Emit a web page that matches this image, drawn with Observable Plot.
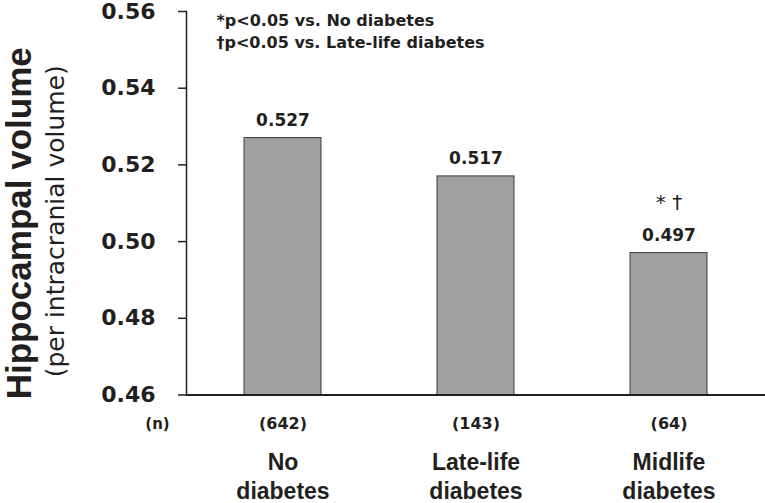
<!DOCTYPE html>
<html>
<head>
<meta charset="utf-8">
<script src="https://cdn.jsdelivr.net/npm/d3@7"></script>
<script src="https://cdn.jsdelivr.net/npm/@observablehq/plot@0.6"></script>
<style>
  html, body { margin: 0; padding: 0; background: #fff; }
  #chart { width: 765px; height: 503px; }
</style>
</head>
<body>
<div id="chart"></div>
<script>
// ---- data ----
const categories = ["No diabetes", "Late-life diabetes", "Midlife diabetes"];
const categoryLabels = ["No\ndiabetes", "Late-life\ndiabetes", "Midlife\ndiabetes"];
const volumes = [0.527, 0.517, 0.497];
const counts = [642, 143, 64];
const significance = ["", "", "* †"];
const yTicks = [0.46, 0.48, 0.50, 0.52, 0.54, 0.56];
const notes = ["*p<0.05 vs. No diabetes", "†p<0.05 vs. Late-life diabetes"];
const yTitle = "Hippocampal volume";
const ySubtitle = "(per intracranial volume)";
const nLabel = "(n)";

const rows = categories.map((c, i) => ({
  cat: c, label: categoryLabels[i], v: volumes[i], n: counts[i], sig: significance[i]
}));

const ink = "#231f20";
const bold = "DejaVu Sans";

const chart = Plot.plot({
  width: 765,
  height: 503,
  marginLeft: 186,
  marginRight: 0,
  marginTop: 11,
  marginBottom: 108.5,
  style: { background: "#fff", color: ink, fontFamily: "DejaVu Sans" },
  x: { domain: categories, paddingInner: 0.6, paddingOuter: 0.3, axis: null },
  y: { domain: [yTicks[0], yTicks[yTicks.length - 1]], label: null },
  marks: [
    Plot.barY(rows, { x: "cat", y1: yTicks[0], y2: "v", fill: "#a0a0a0", stroke: "#3a3a3a", strokeWidth: 1 }),
    Plot.frame({ anchor: "left", stroke: ink, strokeWidth: 1.5 }),
    Plot.ruleY([yTicks[0]], { stroke: ink, strokeWidth: 2 }),
    Plot.axisY({ ticks: yTicks, tickFormat: d3.format(".2f"), tickSize: 8, tickPadding: 23,
      fontSize: 22, fontWeight: "bold", fontFamily: bold, stroke: ink, strokeWidth: 1.5, fill: ink, label: null }),
    // value labels
    Plot.text(rows, { x: "cat", y: "v", text: d => d3.format(".3f")(d.v), dy: -18, lineAnchor: "middle",
      fontSize: 17, fontWeight: "bold", fontFamily: bold, fill: ink }),
    // significance markers
    Plot.text(rows, { x: "cat", y: "v", text: "sig", dy: -51, lineAnchor: "middle",
      fontSize: 20, fontFamily: "DejaVu Sans", fill: ink }),
    // counts
    Plot.text(rows, { x: "cat", frameAnchor: "bottom", text: d => `(${d.n})`, dy: 29, lineAnchor: "middle",
      fontSize: 16, fontWeight: "bold", fontFamily: bold, fill: ink }),
    Plot.text([nLabel], { frameAnchor: "bottom-left", dx: -29, dy: 29, lineAnchor: "middle", textAnchor: "middle",
      fontSize: 15, fontWeight: "bold", fontFamily: bold, fill: ink }),
    // category labels
    Plot.text(rows, { x: "cat", frameAnchor: "bottom", text: "label", dy: 55, lineAnchor: "top", lineHeight: 1.24,
      fontSize: 23, fontWeight: "bold", fontFamily: "Liberation Sans", fill: ink }),
    // notes
    Plot.text([notes[0]], { frameAnchor: "top-left", dx: 30, dy: 9, textAnchor: "start", lineAnchor: "middle",
      fontSize: 16, fontWeight: "bold", fontFamily: bold, fill: ink }),
    Plot.text([notes[1]], { frameAnchor: "top-left", dx: 30, dy: 31.7, textAnchor: "start", lineAnchor: "middle",
      fontSize: 16, fontWeight: "bold", fontFamily: bold, fill: ink }),
    // axis titles
    Plot.text([yTitle], { frameAnchor: "left", rotate: -90, dx: -167, dy: 20, textAnchor: "middle", lineAnchor: "middle",
      fontSize: 35, fontWeight: "bold", fontFamily: "Liberation Sans", fill: ink }),
    Plot.text([ySubtitle], { frameAnchor: "left", rotate: -90, dx: -131, dy: 18, textAnchor: "middle", lineAnchor: "middle",
      fontSize: 25, fontFamily: "DejaVu Sans", fill: ink })
  ]
});
document.getElementById("chart").appendChild(chart);
</script>
</body>
</html>
